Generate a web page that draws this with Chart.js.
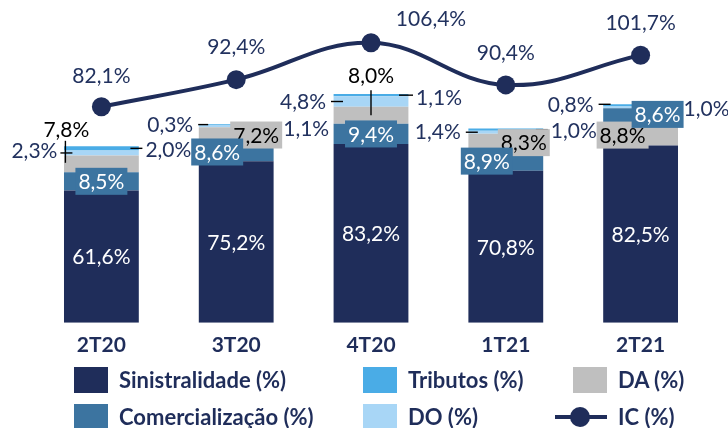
<!DOCTYPE html>
<html>
<head>
<meta charset="utf-8">
<script src="https://cdn.jsdelivr.net/npm/chart.js@4.4.1/dist/chart.umd.min.js"></script>
<style>
  body { margin: 0; background: #fff; }
  #wrap { position: relative; width: 728px; height: 428px; overflow: hidden; font-family: Lato, sans-serif; }
  #chart { position: absolute; left: 0; top: 0; }
  .box { position: absolute; width: 34px; height: 26px; }
  .txt { position: absolute; height: 26px; line-height: 26px; font-size: 22px; font-weight: bold; color: #1f2d5a; white-space: nowrap; }
  .icline { position: absolute; left: 555px; top: 415px; width: 52px; height: 4px; background: #1f2d5a; }
  .icdot { position: absolute; left: 570px; top: 407px; width: 20px; height: 20px; border-radius: 50%; background: #1f2d5a; }
</style>
</head>
<body>
<div id="wrap">
  <canvas id="chart" width="728" height="428"></canvas>

  <div class="box" style="left:74px;top:367px;background:#1f2d5a"></div>
  <div class="txt" style="left:119px;top:367px">Sinistralidade (%)</div>
  <div class="box" style="left:363px;top:367px;background:#4aace6"></div>
  <div class="txt" style="left:408px;top:367px">Tributos (%)</div>
  <div class="box" style="left:573px;top:367px;background:#bfbfbf"></div>
  <div class="txt" style="left:618px;top:367px">DA (%)</div>

  <div class="box" style="left:74px;top:404px;background:#3c74a0"></div>
  <div class="txt" style="left:119px;top:404px">Comercialização (%)</div>
  <div class="box" style="left:363px;top:404px;background:#a8d6f6"></div>
  <div class="txt" style="left:408px;top:404px">DO (%)</div>
  <div class="icline"></div>
  <div class="icdot"></div>
  <div class="txt" style="left:618px;top:404px">IC (%)</div>
</div>

<script>
const quarters = ['2T20', '3T20', '4T20', '1T21', '2T21'];
const sinistralidade = [61.6, 75.2, 83.2, 70.8, 82.5];
const comercializacao = [8.5, 8.6, 9.4, 8.9, 8.6];
const da = [7.8, 7.2, 8.0, 8.3, 8.8];
const despOper = [2.3, 1.1, 4.8, 1.4, 0.8];
const tributos = [2.0, 0.3, 1.1, 1.0, 1.0];
const ic = [82.1, 92.4, 106.4, 90.4, 101.7];

// in 2T21 the original stacks Comercialização above DA
const comAboveDA = [false, false, false, false, true];

const NAVY = '#1f2d5a';
const TXT = '#22325f';

// label placement, relative to segment centre
const place = {
  sin: [{}, {}, {}, {}, {}],
  com: [{ dx: 0 }, { dx: -19 }, { dx: 0 }, { dx: -19 }, { dx: 17, dy: -3 }],
  da: [
    { out: true, dx: -35, dy: -35, align: 'center', color: '#000', leader: [-36, -23, -36, -1] },
    { dx: 20 },
    { out: true, dx: 0, dy: -40, align: 'center', color: '#000', leader: [0, -25, 0, 0] },
    { dx: 18 },
    { dx: -18, dy: -1 }
  ],
  dOp: [
    { out: true, dx: -44, dy: -3, align: 'right', leader: [-41, 0, -29, 0] },
    { out: true, dx: 47, dy: 2, align: 'left' },
    { out: true, dx: -45, dy: 0, align: 'right', leader: [-40, 0, -28, 0] },
    { out: true, dx: -45, dy: -1, align: 'right', leader: [-40, 0, -28, 0] },
    { out: true, dx: -47, dy: -3, align: 'right', leader: [-42, -3, -30, -3] }
  ],
  trib: [
    { out: true, dx: 44, dy: 1, align: 'left', leader: [29, 0, 41, 0] },
    { out: true, dx: -43, dy: 0, align: 'right', leader: [-38, 0, -28, 0] },
    { out: true, dx: 45, dy: 2, align: 'left', leader: [28, 0, 42, 0] },
    { out: true, dx: 45, dy: 1, align: 'left', leader: [30, 0, 42, 0] },
    { out: true, dx: 43, dy: 3, align: 'left' }
  ],
  ic: [{ dy: -32 }, { dy: -33 }, { dx: 60, dy: -25 }, { dy: -33 }, { dy: -33 }]
};

function fmt(v) {
  return v.toFixed(1).replace('.', ',') + '%';
}

const segLabels = {
  id: 'segLabels',
  afterDatasetsDraw(chart) {
    const ctx = chart.ctx;
    const leaders = [], grayBoxes = [], blueBoxes = [], texts = [];
    chart.data.datasets.forEach((ds, di) => {
      const meta = chart.getDatasetMeta(di);
      meta.data.forEach((el, i) => {
        const v = ds.data[i];
        if (v === null || v === undefined) return;
        const p = place[ds.key][i] || {};
        let cx = el.x, cy;
        if (ds.key === 'ic') cy = el.y;
        else cy = (el.y + el.base) / 2;
        const x = cx + (p.dx || 0), y = cy + (p.dy || 0);
        if (p.leader) {
          leaders.push([cx + p.leader[0], cy + p.leader[1], cx + p.leader[2], cy + p.leader[3]]);
        }
        if (ds.key === 'ic') {
          texts.push({ x, y, t: fmt(v), color: TXT, align: 'center' });
        } else if (ds.key === 'sin') {
          texts.push({ x, y, t: fmt(v), color: '#fff', align: 'center' });
        } else if (p.out) {
          texts.push({ x, y, t: fmt(v), color: p.color || TXT, align: p.align });
        } else if (ds.key === 'da') {
          grayBoxes.push({ x, y, t: fmt(v), color: '#000', bg: '#bfbfbf' });
        } else {
          blueBoxes.push({ x, y, t: fmt(v), color: '#fff', bg: '#3c74a0' });
        }
      });
    });

    ctx.save();
    ctx.font = '21px Lato';
    ctx.textBaseline = 'middle';

    ctx.strokeStyle = '#000';
    ctx.lineWidth = 1.4;
    leaders.forEach(l => {
      ctx.beginPath();
      ctx.moveTo(l[0], l[1]);
      ctx.lineTo(l[2], l[3]);
      ctx.stroke();
    });

    const drawBox = b => {
      const w = ctx.measureText(b.t).width + 6;
      ctx.fillStyle = b.bg;
      ctx.fillRect(b.x - w / 2, b.y - 13.5, w, 27);
      ctx.fillStyle = b.color;
      ctx.textAlign = 'center';
      ctx.fillText(b.t, b.x, b.y + 1);
    };
    grayBoxes.forEach(drawBox);
    blueBoxes.forEach(drawBox);

    texts.forEach(t => {
      ctx.fillStyle = t.color;
      ctx.textAlign = t.align;
      ctx.fillText(t.t, t.x, t.y + 1);
    });
    ctx.restore();
  }
};

const barBase = { type: 'bar', stack: 's', yAxisID: 'y', order: 1, borderWidth: 0, categoryPercentage: 1, barPercentage: 0.555 };

new Chart(document.getElementById('chart'), {
  data: {
    labels: quarters,
    datasets: [
      { ...barBase, key: 'sin', label: 'Sinistralidade (%)', data: sinistralidade, backgroundColor: '#1f2d5a' },
      { ...barBase, key: 'com', label: 'Comercialização (%)', data: comercializacao.map((v, i) => comAboveDA[i] ? null : v), backgroundColor: '#3c74a0' },
      { ...barBase, key: 'da', label: 'DA (%)', data: da, backgroundColor: '#bfbfbf' },
      { ...barBase, key: 'com', label: 'Comercialização (%)', data: comercializacao.map((v, i) => comAboveDA[i] ? v : null), backgroundColor: '#3c74a0' },
      { ...barBase, key: 'dOp', label: 'DO (%)', data: despOper, backgroundColor: '#a8d6f6' },
      { ...barBase, key: 'trib', label: 'Tributos (%)', data: tributos, backgroundColor: '#4aace6' },
      {
        type: 'line', key: 'ic', label: 'IC (%)', data: ic, yAxisID: 'y1', order: 0,
        borderColor: NAVY, borderWidth: 4, tension: 0.4,
        pointRadius: 9.5, pointBackgroundColor: NAVY, pointBorderColor: NAVY, pointBorderWidth: 0
      }
    ]
  },
  options: {
    responsive: false,
    animation: false,
    layout: { padding: { left: 34, right: 20, top: 22, bottom: 60 } },
    plugins: { legend: { display: false }, tooltip: { enabled: false } },
    scales: {
      x: {
        stacked: true,
        grid: { display: false, drawTicks: false },
        border: { display: false },
        ticks: { color: NAVY, padding: 10, font: { family: 'Lato', size: 21, weight: 'bold' } }
      },
      y: { stacked: true, display: false, min: 0, max: 140 },
      y1: { display: false, min: 0, max: 114.3 }
    }
  },
  plugins: [segLabels]
});
</script>
</body>
</html>
